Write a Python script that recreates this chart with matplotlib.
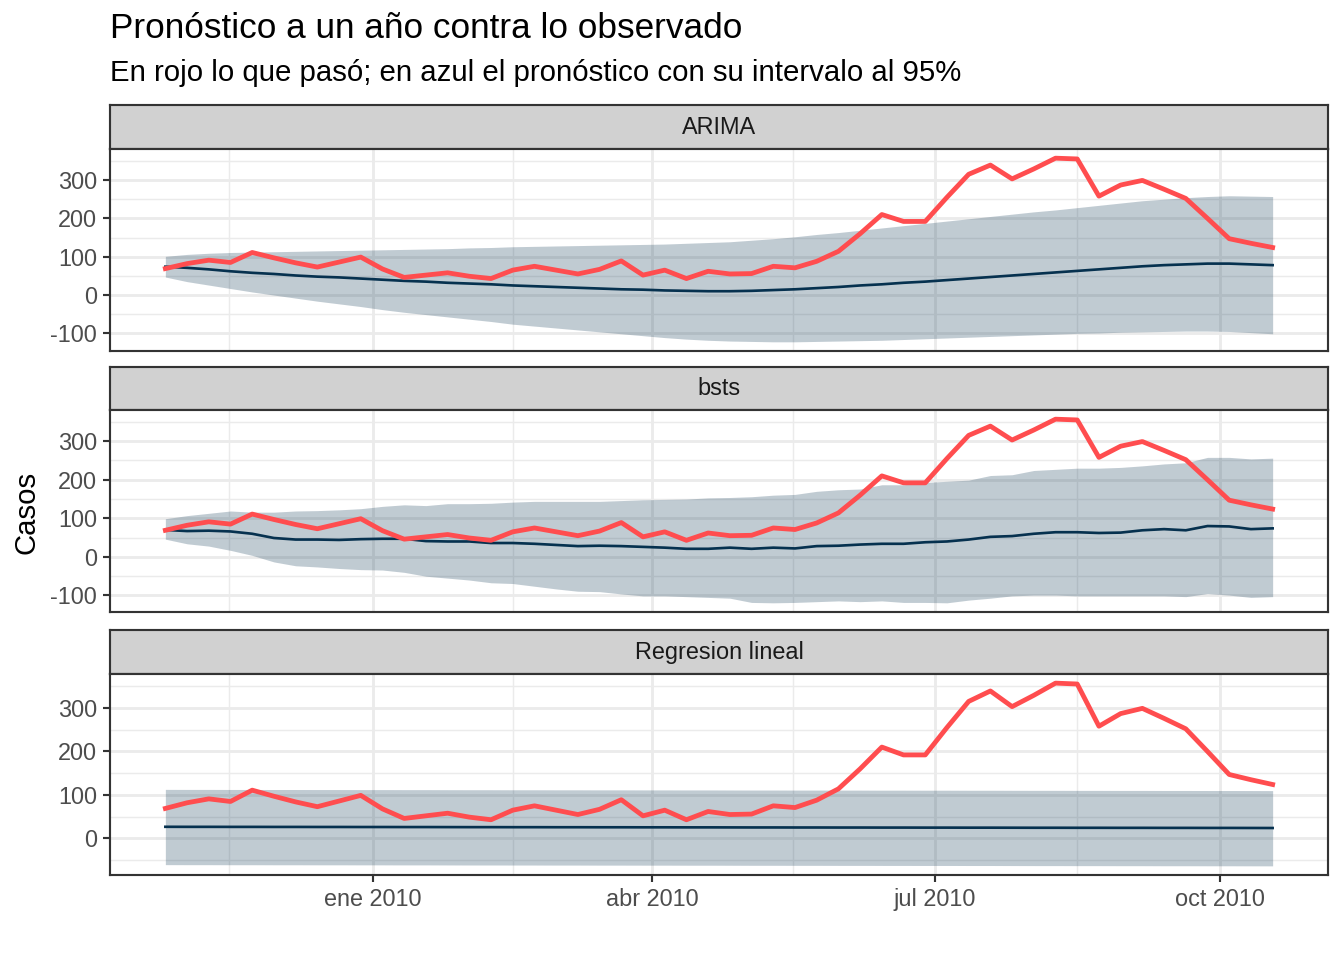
import matplotlib
matplotlib.use("Agg")
import matplotlib.pyplot as plt
import numpy as np
import pandas as pd

plt.rcParams['font.family'] = ['Liberation Sans', 'DejaVu Sans']
plt.rcParams['axes.unicode_minus'] = False

# datos semanales
fechas = pd.date_range("2009-10-26", periods=52, freq="7D")

observado = [69, 82, 91, 85, 111, 97, 84, 73, 86, 99,
             68, 46, 52, 58, 49, 43, 65, 75, 65, 55,
             67, 89, 52, 65, 43, 62, 55, 56, 75, 71,
             88, 114, 160, 210, 192, 192, 255, 315, 339, 303,
             329, 357, 355, 258, 287, 299, 276, 252, 200, 147,
             135, 124]

arima_media = [74, 71, 67, 62, 58, 55, 51, 48, 46, 43,
               40, 37, 35, 32, 30, 28, 25, 23, 21, 19,
               17, 15, 14, 12, 11, 10, 10, 11, 13, 15,
               18, 21, 25, 28, 32, 35, 39, 43, 47, 51,
               55, 59, 63, 67, 71, 75, 78, 80, 82, 82,
               80, 78]
arima_sup = [101, 106, 109, 111, 112, 113, 114, 115, 116, 117,
             118, 119, 120, 121, 123, 124, 126, 127, 128, 129,
             130, 131, 132, 133, 135, 137, 139, 143, 147, 152,
             158, 163, 169, 175, 181, 187, 193, 199, 205, 211,
             217, 222, 228, 234, 240, 246, 250, 254, 257, 259,
             258, 257]
arima_inf = [47, 35, 26, 17, 8, 0, -8, -16, -23, -30,
             -38, -45, -51, -57, -63, -69, -76, -81, -86, -91,
             -96, -101, -106, -111, -115, -118, -120, -121, -122, -122,
             -121, -120, -119, -118, -116, -114, -112, -110, -108, -106,
             -104, -102, -100, -99, -97, -96, -95, -94, -94, -95,
             -98, -101]

bsts_media = [70, 67, 68, 66, 60, 49, 45, 45, 44, 46,
              47, 47, 41, 40, 40, 36, 36, 34, 31, 28,
              29, 28, 26, 24, 21, 21, 24, 21, 24, 22,
              28, 29, 32, 34, 34, 38, 40, 45, 52, 54,
              60, 64, 64, 62, 63, 69, 72, 69, 80, 79,
              72, 74]
bsts_sup = [99, 107, 113, 119, 116, 116, 119, 120, 122, 125,
            131, 135, 133, 138, 138, 139, 142, 144, 144, 144,
            144, 146, 148, 149, 150, 153, 154, 156, 160, 162,
            170, 174, 176, 187, 187, 193, 196, 199, 211, 213,
            224, 227, 230, 230, 232, 236, 241, 244, 258, 258,
            254, 256]
bsts_inf = [46, 34, 28, 17, 4, -13, -23, -26, -30, -33,
            -34, -40, -50, -55, -60, -67, -69, -76, -83, -89,
            -90, -96, -101, -101, -103, -105, -107, -118, -119, -118,
            -116, -114, -116, -114, -118, -118, -119, -112, -107, -101,
            -99, -99, -101, -101, -101, -101, -101, -103, -95, -99,
            -105, -103]

reg_media = [26.8, 26.7, 26.7, 26.6, 26.6, 26.5, 26.5, 26.4, 26.4, 26.3,
             26.3, 26.2, 26.2, 26.1, 26.0, 26.0, 25.9, 25.9, 25.8, 25.8,
             25.7, 25.7, 25.6, 25.6, 25.5, 25.5, 25.4, 25.3, 25.3, 25.2,
             25.2, 25.1, 25.1, 25.0, 25.0, 24.9, 24.9, 24.8, 24.8, 24.7,
             24.6, 24.6, 24.5, 24.5, 24.4, 24.4, 24.3, 24.3, 24.2, 24.2,
             24.1, 24.0]
reg_sup = [112.8, 112.7, 112.7, 112.6, 112.6, 112.5, 112.5, 112.4, 112.4, 112.3,
           112.3, 112.2, 112.2, 112.1, 112.0, 112.0, 111.9, 111.9, 111.8, 111.8,
           111.7, 111.7, 111.6, 111.6, 111.5, 111.5, 111.4, 111.3, 111.3, 111.2,
           111.2, 111.1, 111.1, 111.0, 111.0, 110.9, 110.9, 110.8, 110.8, 110.7,
           110.6, 110.6, 110.5, 110.5, 110.4, 110.4, 110.3, 110.3, 110.2, 110.2,
           110.1, 110.0]
reg_inf = [-60.2, -60.3, -60.3, -60.4, -60.4, -60.5, -60.5, -60.6, -60.6, -60.7,
           -60.7, -60.8, -60.8, -60.9, -61.0, -61.0, -61.1, -61.1, -61.2, -61.2,
           -61.3, -61.3, -61.4, -61.4, -61.5, -61.5, -61.6, -61.7, -61.7, -61.8,
           -61.8, -61.9, -61.9, -62.0, -62.0, -62.1, -62.1, -62.2, -62.2, -62.3,
           -62.4, -62.4, -62.5, -62.5, -62.6, -62.6, -62.7, -62.7, -62.8, -62.8,
           -62.9, -63.0]

modelos = ["ARIMA", "bsts", "Regresion lineal"]
medias = [arima_media, bsts_media, reg_media]
superiores = [arima_sup, bsts_sup, reg_sup]
inferiores = [arima_inf, bsts_inf, reg_inf]

x_cortes = pd.to_datetime(["2010-01-01", "2010-04-01", "2010-07-01", "2010-10-01"])
x_etiquetas = ["ene 2010", "abr 2010", "jul 2010", "oct 2010"]
x_menores = pd.to_datetime(["2009-11-15 12:00", "2010-02-15 00:00", "2010-05-16 12:00", "2010-08-16 00:00"])
y_cortes = [-100, 0, 100, 200, 300]
y_menores = [-150, -50, 50, 150, 250, 350]

ROJO = "#FF4D4F"
AZUL = "#06314F"
GRIS20 = "#333333"

W, H = 1344, 960
fig = plt.figure(figsize=(7, 5), dpi=192)

def caja(x0, y0, x1, y1):
    return [x0 / W, 1 - y1 / H, (x1 - x0) / W, (y1 - y0) / H]

# (tira arriba, panel arriba, panel abajo) en pixeles
filas = [(105, 149, 351), (367, 410, 612), (630, 674, 875)]
x_izq, x_der = 110, 1328

rango = fechas[-1] - fechas[0]
xlim = (fechas[0] - rango * 0.05, fechas[-1] + rango * 0.05)

for k, (nombre, media, sup, inf) in enumerate(zip(modelos, medias, superiores, inferiores)):
    t0, p0, p1 = filas[k]

    tira = fig.add_axes(caja(x_izq, t0, x_der, p0))
    tira.set_facecolor("#D1D1D1")
    tira.set_xticks([])
    tira.set_yticks([])
    for s in tira.spines.values():
        s.set_color(GRIS20)
        s.set_linewidth(0.8)
    tira.text(0.5, 0.5, nombre, transform=tira.transAxes, ha="center", va="center",
              fontsize=8.8, color="#1A1A1A")

    ax = fig.add_axes(caja(x_izq, p0, x_der, p1))
    ax.fill_between(fechas, inf, sup, color=AZUL, alpha=0.25, lw=0)
    ax.plot(fechas, media, color=AZUL, lw=1.0, solid_joinstyle="round")
    ax.plot(fechas, observado, color=ROJO, lw=1.8, solid_joinstyle="round")

    ax.set_yticks(y_cortes)
    ax.set_yticks(y_menores, minor=True)
    ax.set_xticks(x_cortes)
    ax.set_xticks(x_menores, minor=True)
    ax.set_xticklabels(x_etiquetas)

    # limites despues de los ticks (ggplot: expansion del 5%)
    vals = np.concatenate([observado, sup, inf])
    lo, hi = vals.min(), vals.max()
    ax.set_ylim(lo - (hi - lo) * 0.05, hi + (hi - lo) * 0.05)
    ax.set_xlim(xlim)

    ax.set_axisbelow(True)
    ax.grid(which="major", color="#EBEBEB", lw=1.07)
    ax.grid(which="minor", color="#EBEBEB", lw=0.55)
    ax.tick_params(which="minor", length=0)
    ax.tick_params(which="major", length=2.75, width=0.8, color=GRIS20,
                   labelsize=8.8, labelcolor="#4D4D4D", pad=2.2)
    if k < 2:
        ax.tick_params(axis="x", which="both", bottom=False, labelbottom=False)
    for s in ax.spines.values():
        s.set_color(GRIS20)
        s.set_linewidth(0.8)

fig.text(x_izq / W, 1 - 28 / H, "Pronóstico a un año contra lo observado",
         fontsize=13.2, ha="left", va="center", color="black")
fig.text(x_izq / W, 1 - 73 / H, "En rojo lo que pasó; en azul el pronóstico con su intervalo al 95%",
         fontsize=11, ha="left", va="center", color="black")
fig.text(27 / W, 1 - 512 / H, "Casos", fontsize=11, rotation=90, ha="center", va="center")

fig.savefig("out.png", dpi=192)
